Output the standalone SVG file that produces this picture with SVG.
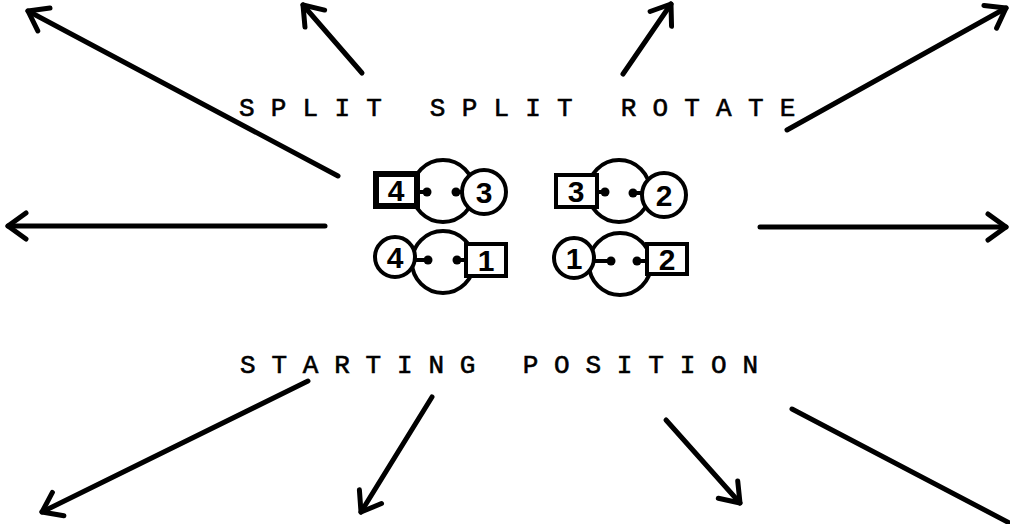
<svg xmlns="http://www.w3.org/2000/svg" width="1010" height="524" viewBox="0 0 1010 524">
<defs>
<marker id="ah" markerUnits="userSpaceOnUse" markerWidth="40" markerHeight="40" viewBox="-30 -20 40 40" refX="0" refY="0" orient="auto">
<path d="M-18,-13 L0,0 L-18,13" fill="none" stroke="#000" stroke-width="5" stroke-linecap="round" stroke-linejoin="round"/>
</marker>
<style>
.ar{stroke:#000;stroke-width:5;stroke-linecap:round;fill:none;marker-end:url(#ah)}
.big{fill:#fff;stroke:#000;stroke-width:4}
.el{fill:#fff;stroke:#000;stroke-width:4}
.elb{fill:#fff;stroke:#000;stroke-width:6}
.dot{fill:#000}
.stub{stroke:#000;stroke-width:4}
.num{font-family:"Liberation Sans",Arial,sans-serif;font-weight:bold;font-size:30px;text-anchor:middle;fill:#000}
.lbl{font-family:"Liberation Mono","Courier New",monospace;font-size:26px;fill:#000;stroke:#000;stroke-width:0.6}
</style>
</defs>
<rect width="1010" height="524" fill="#fff"/>
<g id="connectors">
<line class="ar" x1="338" y1="176" x2="28" y2="11"/>
<line class="ar" x1="362" y1="73" x2="303" y2="5"/>
<line class="ar" x1="623" y1="74" x2="671" y2="4"/>
<line class="ar" x1="787" y1="130" x2="1006" y2="8"/>
<line class="ar" x1="325" y1="226" x2="8" y2="226"/>
<line class="ar" x1="760" y1="227" x2="1006" y2="227"/>
<line class="ar" x1="308" y1="381" x2="42" y2="512"/>
<line class="ar" x1="432" y1="397" x2="361" y2="512"/>
<line class="ar" x1="666" y1="420" x2="740" y2="503"/>
<line class="ar" x1="792" y1="409" x2="1040" y2="539"/>
</g>
<g id="labels">
<text class="lbl" x="239" y="116" letter-spacing="0.3" xml:space="preserve">S P L I T   S P L I T   R O T A T E</text>
<text class="lbl" x="240" y="373" letter-spacing="0.1" xml:space="preserve">S T A R T I N G   P O S I T I O N</text>
</g>
<g id="node-4-3">
<circle class="big" cx="443" cy="191" r="31"/>
<rect class="elb" x="376" y="174" width="41" height="32"/>
<text class="num" x="396" y="201">4</text>
<circle class="el" cx="484" cy="192" r="22"/>
<text class="num" x="484" y="203">3</text>
<line class="stub" x1="417" y1="192" x2="427" y2="192"/>
<circle class="dot" cx="427" cy="192" r="4.5"/>
<line class="stub" x1="456" y1="192" x2="462" y2="192"/>
<circle class="dot" cx="456" cy="192" r="4.5"/>
</g>
<g id="node-3-2">
<circle class="big" cx="619" cy="191" r="31"/>
<rect class="el" x="556" y="175" width="41" height="32"/>
<text class="num" x="576" y="202">3</text>
<circle class="el" cx="664" cy="195" r="22"/>
<text class="num" x="664" y="206">2</text>
<line class="stub" x1="597" y1="192" x2="605" y2="192"/>
<circle class="dot" cx="605" cy="192" r="4.5"/>
<line class="stub" x1="633" y1="193" x2="642" y2="193"/>
<circle class="dot" cx="633" cy="193" r="4.5"/>
</g>
<g id="node-4-1">
<circle class="big" cx="443" cy="262" r="31"/>
<circle class="el" cx="395" cy="257" r="20"/>
<text class="num" x="395" y="268">4</text>
<rect class="el" x="466" y="244" width="40" height="32"/>
<text class="num" x="486" y="271">1</text>
<line class="stub" x1="415" y1="260" x2="428" y2="260"/>
<circle class="dot" cx="428" cy="260" r="4.5"/>
<line class="stub" x1="457" y1="260" x2="466" y2="260"/>
<circle class="dot" cx="457" cy="260" r="4.5"/>
</g>
<g id="node-1-2">
<circle class="big" cx="620" cy="264" r="31"/>
<circle class="el" cx="574" cy="258" r="20"/>
<text class="num" x="574" y="269">1</text>
<rect class="el" x="647" y="244" width="40" height="30"/>
<text class="num" x="667" y="270">2</text>
<line class="stub" x1="594" y1="261" x2="611" y2="261"/>
<circle class="dot" cx="611" cy="261" r="4.5"/>
<line class="stub" x1="637" y1="261" x2="647" y2="261"/>
<circle class="dot" cx="637" cy="261" r="4.5"/>
</g>
</svg>
